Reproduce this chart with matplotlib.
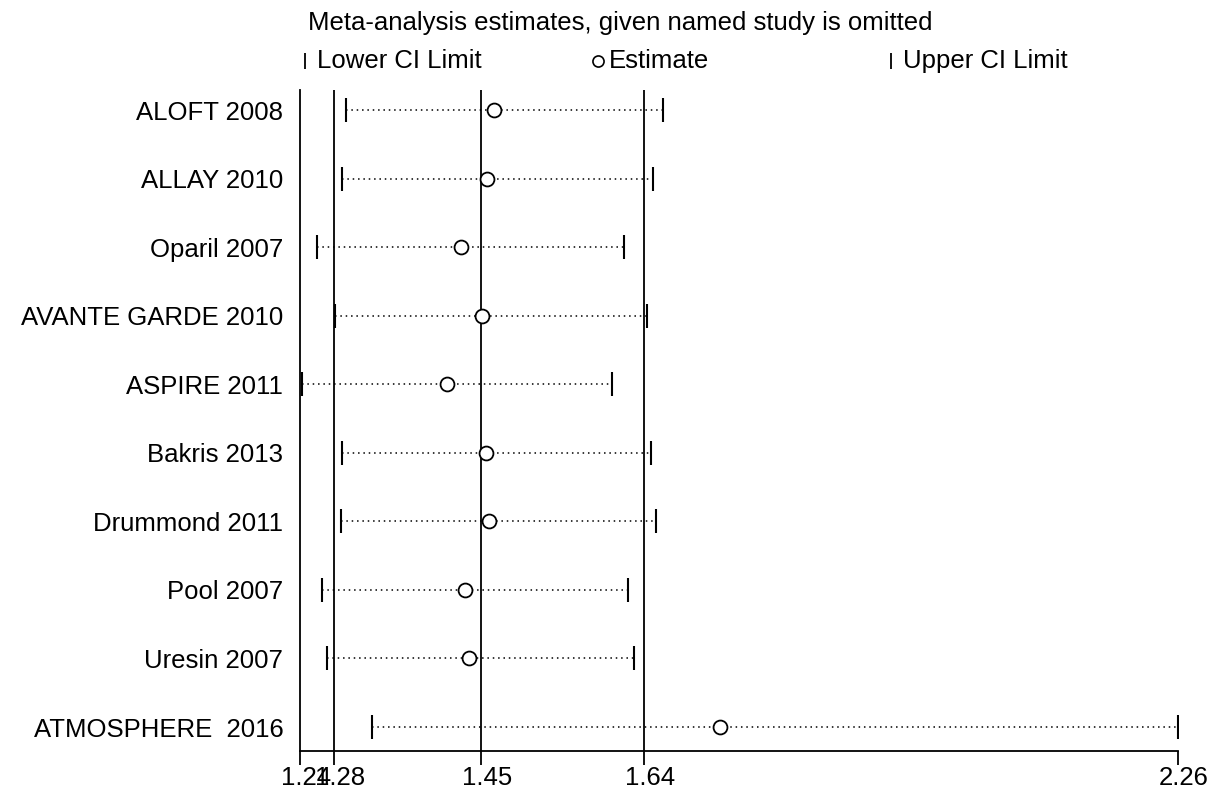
import matplotlib.pyplot as plt
import matplotlib as mpl
import matplotlib.transforms as mtransforms
from matplotlib.lines import Line2D

mpl.rcParams['font.family'] = ['Liberation Sans', 'DejaVu Sans']

# Data
studies = ['ALOFT 2008', 'ALLAY 2010', 'Oparil 2007', 'AVANTE GARDE 2010',
           'ASPIRE 2011', 'Bakris 2013', 'Drummond 2011', 'Pool 2007',
           'Uresin 2007', 'ATMOSPHERE  2016']
lower = [1.293, 1.289, 1.260, 1.281, 1.242, 1.289, 1.288, 1.266, 1.271, 1.324]
estimate = [1.465, 1.457, 1.427, 1.451, 1.411, 1.456, 1.459, 1.432, 1.436, 1.728]
upper = [1.662, 1.650, 1.616, 1.643, 1.603, 1.648, 1.653, 1.621, 1.628, 2.26]
ref_lines = [1.28, 1.45, 1.64]
xticks = [1.24, 1.28, 1.45, 1.64, 2.26]
xticklabels = ['1.24', '1.28', '1.45', '1.64', '2.26']

fs = 18.5

fig = plt.figure(figsize=(12.11, 7.89), dpi=100)
ax = fig.add_axes([300/1211, 1-751/789, 878/1211, 661/789])

ypos = list(range(len(studies)))

for v in ref_lines:
    ax.axvline(v, color='black', linewidth=1.3, zorder=1)

for i in ypos:
    ax.plot([lower[i], upper[i]], [i, i], color='black', linewidth=1.1,
            linestyle=(0, (1, 2.5)), zorder=2)
ax.plot(lower, ypos, linestyle='none', marker='|', markersize=17,
        markeredgewidth=1.5, color='black', zorder=3)
ax.plot(upper, ypos, linestyle='none', marker='|', markersize=17,
        markeredgewidth=1.5, color='black', zorder=3)
ax.plot(estimate, ypos, linestyle='none', marker='o', markersize=10,
        markerfacecolor='white', markeredgecolor='black',
        markeredgewidth=1.3, zorder=4)

ax.set_xlim(1.24, 2.26)
ax.set_ylim(9.35, -0.292)
ax.set_xticks(xticks)
ax.set_xticklabels(xticklabels, fontsize=fs)
ax.set_yticks(ypos)
ax.set_yticklabels(studies, fontsize=fs)
ax.tick_params(axis='y', length=0, pad=12)
ax.tick_params(axis='x', length=10, width=1.3, direction='out', pad=1)
ax.spines['top'].set_visible(False)
ax.spines['right'].set_visible(False)
ax.spines['left'].set_linewidth(1.3)
ax.spines['bottom'].set_linewidth(1.3)

# x tick labels sit a few pixels right of their ticks in the original
shift = mtransforms.ScaledTranslation(6/100, 0, fig.dpi_scale_trans)
for lab in ax.get_xticklabels():
    lab.set_transform(lab.get_transform() + shift)

# legend
fig.text(308/1211, 1-23/789, 'Meta-analysis estimates, given named study is omitted',
         fontsize=fs, va='center', ha='left')
ly = 1-61/789
fig.add_artist(Line2D([305/1211], [ly], marker='|', markersize=11, markeredgewidth=1.3,
                      color='black', transform=fig.transFigure))
fig.text(317/1211, ly, 'Lower CI Limit', fontsize=fs, va='center', ha='left')
fig.add_artist(Line2D([598/1211], [ly], marker='o', markersize=8, markerfacecolor='white',
                      markeredgecolor='black', markeredgewidth=1.2,
                      transform=fig.transFigure))
fig.text(609/1211, ly, 'Estimate', fontsize=fs, va='center', ha='left')
fig.add_artist(Line2D([891/1211], [ly], marker='|', markersize=11, markeredgewidth=1.3,
                      color='black', transform=fig.transFigure))
fig.text(903/1211, ly, 'Upper CI Limit', fontsize=fs, va='center', ha='left')

fig.savefig('out.png', dpi=100)
